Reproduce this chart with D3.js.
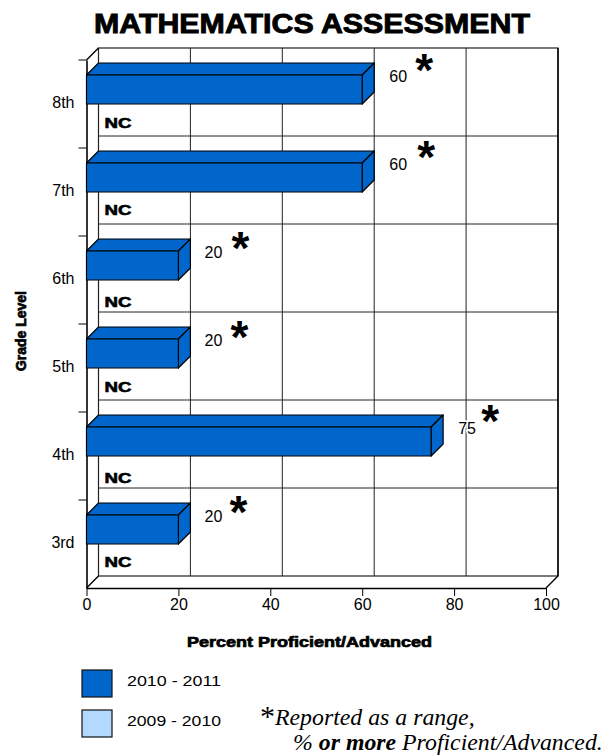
<!DOCTYPE html>
<html>
<head>
<meta charset="utf-8">
<script src="https://cdn.jsdelivr.net/npm/d3@7"></script>
<style>
html, body { margin: 0; padding: 0; background: #fff; }
svg { display: block; }
text { font-family: "Liberation Sans", Arial, sans-serif; fill: #000; }
.heavy { font-weight: bold; stroke: #000; stroke-width: 0.6px; }
</style>
</head>
<body>
<div id="chart"></div>
<script>
var grades = ['8th', '7th', '6th', '5th', '4th', '3rd'];
var current = [60, 60, 20, 20, 75, 20];          // 2010 - 2011, reported as a range
var previous = ['NC', 'NC', 'NC', 'NC', 'NC', 'NC']; // 2009 - 2010, not calculated
var xTicks = [0, 20, 40, 60, 80, 100];
var seriesNames = ['2010 - 2011', '2009 - 2010'];
var seriesColors = ['#0066cc', '#b3d9ff'];

var width = 605, height = 755;
// note: "top" is taken by window.top
var plotL = 86.5, plotR = 546, plotT = 60, plotB = 588;
var depth = 12;

// hand placed labels in the reference don't sit on a regular grid
var valueNudge = [[36, -22], [36, -22], [35, -22], [35, -22], [36, -22], [35, -22]];
var starNudge = [[62, -35], [64, -36], [62, -33], [61, -32], [59, -36], [60, -33]];
var ncNudge = [0, -1, 3, 0, 3, -1];

var svg = d3.select('#chart').append('svg')
    .attr('width', width)
    .attr('height', height);

var x = d3.scaleLinear().domain([0, 100]).range([plotL, plotR]);
var y = d3.scaleBand().domain(grades).range([plotT, plotB]);

svg.append('text')
    .attr('class', 'heavy')
    .attr('x', 94)
    .attr('y', 33)
    .attr('textLength', 436)
    .attr('lengthAdjust', 'spacingAndGlyphs')
    .style('font-size', '27px')
    .style('stroke-width', '0.9px')
    .text('MATHEMATICS ASSESSMENT');

// back wall, side wall and floor
var frame = svg.append('g').attr('fill', 'none').attr('stroke', '#222');

frame.append('rect')
    .attr('x', x(0) + depth)
    .attr('y', plotT - depth)
    .attr('width', plotR - plotL)
    .attr('height', plotB - plotT)
    .attr('stroke-width', 1.2);

frame.selectAll('.vgrid')
    .data(xTicks.slice(1, -1))
    .enter()
    .append('line')
    .attr('class', 'vgrid')
    .attr('x1', function(d){ return x(d) + depth; })
    .attr('x2', function(d){ return x(d) + depth; })
    .attr('y1', plotT - depth)
    .attr('y2', plotB - depth);

frame.selectAll('.hgrid')
    .data(grades.slice(0, -1))
    .enter()
    .append('line')
    .attr('class', 'hgrid')
    .attr('x1', x(0) + depth)
    .attr('x2', plotR + depth)
    .attr('y1', function(d){ return y(d) + y.bandwidth() - depth; })
    .attr('y2', function(d){ return y(d) + y.bandwidth() - depth; });

frame.append('path')
    .attr('stroke', '#000')
    .attr('stroke-width', 1.4)
    .attr('d', 'M' + x(0) + ',' + plotT + 'L' + (x(0) + depth) + ',' + (plotT - depth)
        + 'M' + x(0) + ',' + plotB + 'L' + (x(0) + depth) + ',' + (plotB - depth)
        + 'M' + plotR + ',' + plotB + 'L' + (plotR + depth) + ',' + (plotB - depth)
        + 'M' + (plotR + depth) + ',' + (plotT - depth) + 'V' + (plotB - depth));

// axes on the front plane
var xAxis = svg.append('g')
    .attr('transform', 'translate(0,' + plotB + ')')
    .call(d3.axisBottom(x).tickValues(xTicks).tickSize(8).tickSizeOuter(0).tickPadding(3));

var yAxis = svg.append('g')
    .attr('transform', 'translate(' + plotL + ',-1)')
    .call(d3.axisLeft(y).tickSize(0).tickPadding(12));

[xAxis, yAxis].forEach(function(axis){
    axis.selectAll('.domain').attr('stroke', '#000').attr('stroke-width', 1.6);
    axis.selectAll('.tick line').attr('stroke', '#000');
    axis.selectAll('text')
        .style('font-family', '"Liberation Sans", Arial, sans-serif')
        .style('font-size', '16px');
});
yAxis.selectAll('.domain').attr('transform', 'translate(0,1)');

svg.selectAll('.ytick')
    .data(grades)
    .enter()
    .append('line')
    .attr('class', 'ytick')
    .attr('x1', plotL - 8)
    .attr('x2', plotL)
    .attr('y1', function(d){ return y(d); })
    .attr('y2', function(d){ return y(d); })
    .attr('stroke', '#000');

// NC labels go under each bar, one per grade
svg.selectAll('.nc')
    .data(previous)
    .enter()
    .append('text')
    .attr('class', 'nc heavy')
    .attr('x', x(0) + 18)
    .attr('y', function(d, i){ return y(grades[i]) + 68 + ncNudge[i]; })
    .attr('textLength', 27)
    .attr('lengthAdjust', 'spacingAndGlyphs')
    .style('font-size', '14px')
    .style('stroke-width', '0.6px')
    .text(function(d){ return d; });

// 3d bars: top face, end face, front face
var bars = svg.selectAll('.bar')
    .data(current)
    .enter()
    .append('g')
    .attr('class', 'bar')
    .attr('fill', seriesColors[0])
    .attr('stroke', '#000')
    .attr('stroke-width', 1.2)
    .attr('stroke-linejoin', 'round');

var barTop = 15, barHeight = 29;

bars.append('path')
    .attr('d', function(d, i){
        var y0 = y(grades[i]) + barTop;
        return 'M' + x(0) + ',' + y0 + 'l' + depth + ',' + (-depth)
            + 'H' + (x(d) + depth) + 'l' + (-depth) + ',' + depth + 'Z';
    });

bars.append('path')
    .attr('d', function(d, i){
        var y0 = y(grades[i]) + barTop;
        return 'M' + x(d) + ',' + y0 + 'l' + depth + ',' + (-depth)
            + 'v' + barHeight + 'l' + (-depth) + ',' + depth + 'Z';
    });

bars.append('rect')
    .attr('x', x(0))
    .attr('y', function(d, i){ return y(grades[i]) + barTop; })
    .attr('width', function(d){ return x(d) - x(0); })
    .attr('height', barHeight);

// value labels, white halo so the 75 breaks the gridline
svg.selectAll('.val')
    .data(current)
    .enter()
    .append('text')
    .attr('class', 'val')
    .attr('x', function(d, i){ return x(d) + valueNudge[i][0]; })
    .attr('y', function(d, i){ return y(grades[i]) + barTop + barHeight + valueNudge[i][1]; })
    .attr('text-anchor', 'middle')
    .attr('paint-order', 'stroke')
    .attr('stroke', '#fff')
    .attr('stroke-width', 3)
    .style('font-size', '16px')
    .text(function(d){ return d; });

svg.selectAll('.star')
    .data(current)
    .enter()
    .append('text')
    .attr('class', 'star')
    .attr('x', function(d, i){ return x(d) + starNudge[i][0]; })
    .attr('y', function(d, i){ return y(grades[i]) + barTop + barHeight + starNudge[i][1] + 17; })
    .attr('text-anchor', 'middle')
    .style('font-size', '46px')
    .style('font-weight', 'bold')
    .text('*');

svg.append('text')
    .attr('class', 'heavy')
    .attr('x', 187)
    .attr('y', 647)
    .attr('textLength', 245)
    .attr('lengthAdjust', 'spacingAndGlyphs')
    .style('font-size', '14px')
    .style('stroke-width', '0.7px')
    .text('Percent Proficient/Advanced');

svg.append('text')
    .attr('class', 'heavy')
    .attr('transform', 'translate(26,331) rotate(-90)')
    .attr('text-anchor', 'middle')
    .attr('textLength', 80)
    .attr('lengthAdjust', 'spacingAndGlyphs')
    .style('font-size', '14px')
    .style('stroke-width', '0.7px')
    .text('Grade Level');

// legend
var legend = svg.selectAll('.legend')
    .data(seriesNames)
    .enter()
    .append('g')
    .attr('class', 'legend')
    .attr('transform', function(d, i){ return 'translate(82,' + (670 + i * 40) + ')'; });

legend.append('rect')
    .attr('width', 30)
    .attr('height', 27)
    .attr('stroke', '#111')
    .attr('stroke-width', 1.2)
    .attr('fill', function(d, i){ return seriesColors[i]; });

legend.append('text')
    .attr('x', 45)
    .attr('y', 16)
    .attr('textLength', 94)
    .attr('lengthAdjust', 'spacingAndGlyphs')
    .style('font-size', '15px')
    .text(function(d){ return d; });

// footnote
var note = svg.append('g').style('font-family', '"Liberation Serif", "Times New Roman", serif');

note.append('text')
    .attr('x', 260)
    .attr('y', 726)
    .style('font-family', 'inherit')
    .style('font-size', '30px')
    .text('*');

note.append('text')
    .attr('x', 275)
    .attr('y', 725)
    .style('font-family', 'inherit')
    .style('font-size', '23.8px')
    .style('font-style', 'italic')
    .text('Reported as a range,');

var line2 = note.append('text')
    .attr('x', 293)
    .attr('y', 750)
    .style('font-family', 'inherit')
    .style('font-size', '23.8px')
    .style('font-style', 'italic');

line2.append('tspan').text('% ');
line2.append('tspan').style('font-weight', 'bold').text('or more');
line2.append('tspan').text(' Proficient/Advanced.');
</script>
</body>
</html>
